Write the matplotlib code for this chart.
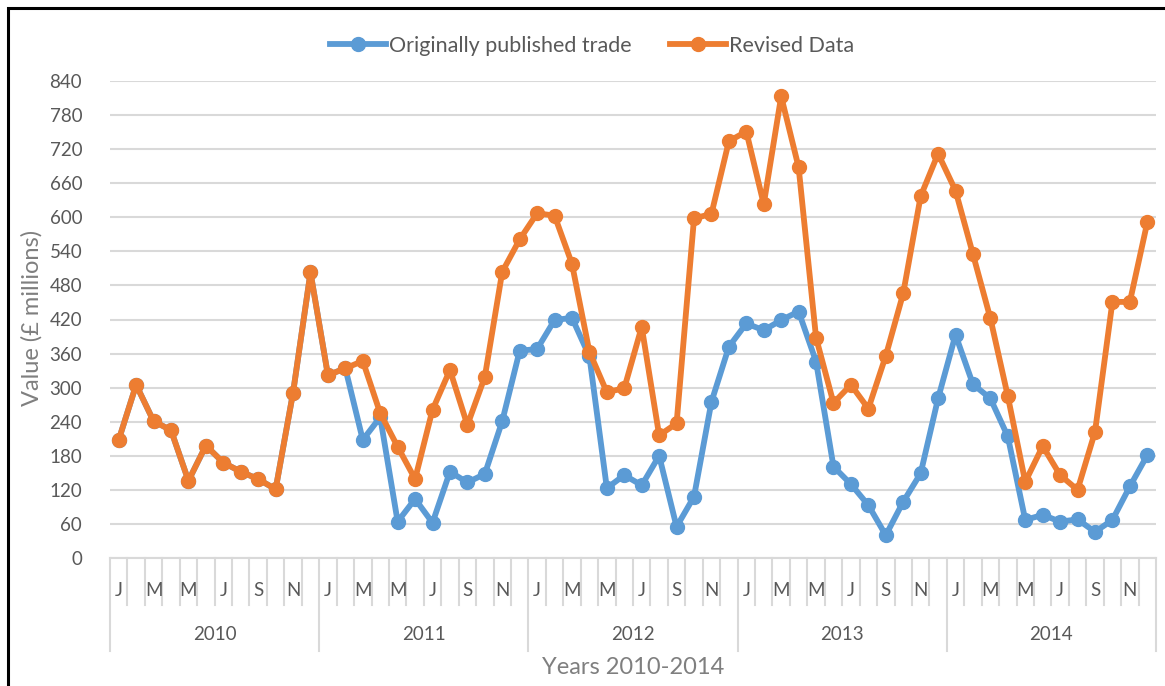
import matplotlib
matplotlib.use("Agg")
import matplotlib.pyplot as plt
from matplotlib.lines import Line2D
from matplotlib.patches import Rectangle

years = ["2010", "2011", "2012", "2013", "2014"]
month_labels = ["J", "", "M", "", "M", "", "J", "", "S", "", "N", ""]

revised = [
    208, 305, 241, 225, 136, 198, 168, 152, 139, 121, 291, 503,
    322, 334, 347, 255, 196, 139, 261, 331, 234, 319, 504, 561,
    607, 603, 518, 363, 292, 299, 407, 216, 237, 598, 606, 734,
    751, 623, 813, 688, 388, 273, 305, 263, 356, 466, 637, 712,
    647, 535, 422, 285, 134, 197, 146, 120, 222, 451, 451, 591,
]
original = [
    208, 305, 241, 225, 136, 198, 168, 152, 139, 121, 291, 503,
    322, 334, 208, 248, 64, 104, 62, 152, 133, 148, 241, 365,
    368, 419, 423, 355, 123, 146, 128, 180, 55, 108, 275, 372,
    413, 401, 419, 434, 346, 161, 130, 93, 40, 99, 149, 281,
    393, 306, 281, 214, 67, 76, 64, 68, 46, 67, 126, 181,
]
series_names = ["Originally published trade", "Revised Data"]
yticks = list(range(0, 841, 60))

BLUE = "#5B9BD5"
ORANGE = "#ED7D31"
GRID = "#D9D9D9"
TXT = "#595959"
FONT = ["Lato", "DejaVu Sans"]
plt.rcParams["font.family"] = FONT

LW, MS = 4.2, 10
TICKFS = 13.5

W, H = 1165, 686
fig = plt.figure(figsize=(W / 100, H / 100), dpi=100)
L, R, T, B = 110, 1156, 81, 558
ax = fig.add_axes([L / W, 1 - B / H, (R - L) / W, (B - T) / H])

n = len(revised)
x = list(range(n))
ax.plot(x, original, color=BLUE, lw=LW, marker="o", ms=MS, solid_capstyle="round",
        solid_joinstyle="round", zorder=3)
ax.plot(x, revised, color=ORANGE, lw=LW, marker="o", ms=MS, solid_capstyle="round",
        solid_joinstyle="round", zorder=4)

ax.set_xlim(-0.5, n - 0.5)
ax.set_ylim(0, 840)
ax.set_yticks(yticks)
ax.set_yticklabels([str(v) for v in yticks], fontsize=TICKFS, color=TXT)
ax.tick_params(axis="y", length=0, pad=20)
ax.set_xticks([])
for s in ax.spines.values():
    s.set_visible(False)
ax.yaxis.grid(True, color=GRID, lw=1.5, zorder=0)
ax.set_axisbelow(True)

# category axis
tr = ax.get_xaxis_transform()
ph = B - T
def ay(py):
    return -(py - B) / ph
ax.plot([-0.5, n - 0.5], [0, 0], transform=tr, color=GRID, lw=1.5, clip_on=False, zorder=1)
for k in range(n + 1):
    bottom = ay(651) if k % 12 == 0 else ay(605)
    ax.plot([k - 0.5, k - 0.5], [0, bottom], transform=tr, color=GRID, lw=1.5,
            clip_on=False, zorder=1)
for k in range(n):
    lab = month_labels[k % 12]
    if lab:
        ax.text(k, ay(590), lab, transform=tr, ha="center", va="center",
                fontsize=TICKFS, color=TXT)
for yi, yr in enumerate(years):
    ax.text(yi * 12 + 5.5, ay(635), yr, transform=tr, ha="center", va="center",
            fontsize=TICKFS, color=TXT)
ax.text((n - 1) / 2, ay(668), "Years 2010-2014", transform=tr, ha="center",
        va="center", fontsize=17, color="#7F7F7F")

fig.text(32 / W, 1 - 318 / H, "Value (£ millions)", rotation=90, ha="center",
         va="center", fontsize=17, color="#7F7F7F")

handles = [Line2D([], [], color=BLUE, lw=LW, marker="o", ms=MS),
           Line2D([], [], color=ORANGE, lw=LW, marker="o", ms=MS)]
leg = fig.legend(handles, series_names, loc="center", bbox_to_anchor=(592 / W, 1 - 46 / H),
                 ncol=2, frameon=False, fontsize=15.5, handlelength=2.6,
                 handletextpad=0.15, columnspacing=1.8)
for t in leg.get_texts():
    t.set_color(TXT)

# outer frame (left and top visible)
fig.add_artist(Rectangle((8 / W, -0.05), 1.2, 1 - 8 / H + 0.05, transform=fig.transFigure,
                         fill=False, edgecolor="black", lw=2.2))

fig.savefig("out.png", dpi=100, facecolor="white")
